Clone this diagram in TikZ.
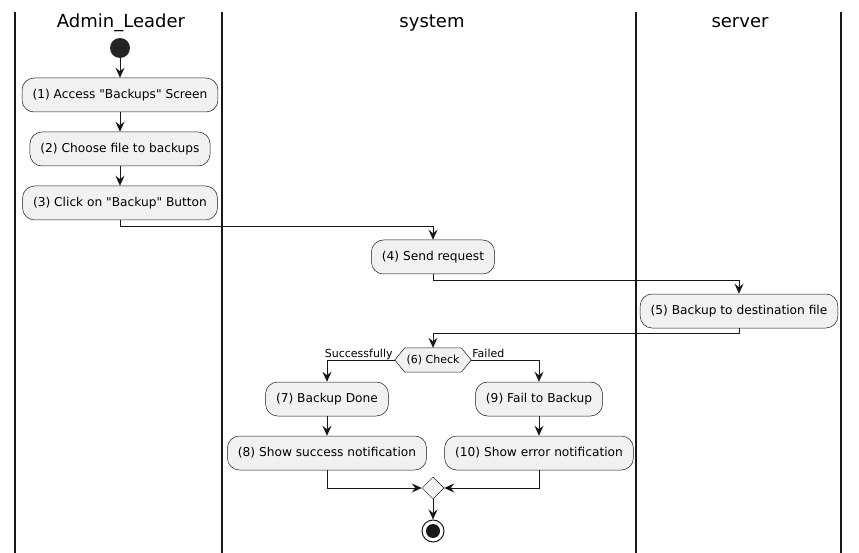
\documentclass[tikz,border=0pt]{standalone}
\usepackage{fontspec}
\setmainfont{DejaVu Sans}[Ligatures=TeXOff]
\usetikzlibrary{arrows.meta,shapes.geometric,calc}
\definecolor{boxfill}{HTML}{F1F1F1}
\definecolor{ink}{HTML}{181818}
\tikzset{
  lane/.style={line width=1.5pt, ink},
  lanetitle/.style={font=\fontsize{18}{20}\selectfont, inner sep=0pt},
  action/.style={draw=ink, line width=0.5pt, fill=boxfill, rounded corners=12pt,
    minimum height=34pt, inner xsep=10.5pt, inner ysep=0pt,
    font=\fontsize{12.2}{14}\selectfont},
  hexnode/.style={draw=none, minimum width=56pt, minimum height=24pt, inner sep=0pt,
    font=\fontsize{11}{13}\selectfont},
  hexshape/.style={draw=ink, line width=0.5pt, fill=boxfill},
  merge/.style={diamond, draw=ink, line width=0.5pt, fill=boxfill,
    minimum width=22pt, minimum height=22pt, inner sep=0pt},
  guard/.style={font=\fontsize{11}{13}\selectfont, inner sep=1pt},
  flow/.style={ink, line width=1pt, -{Stealth[length=10pt,width=9pt,inset=3.5pt]}}
}
\begin{document}
\begin{tikzpicture}[x=1pt,y=-1pt]
  \useasboundingbox (0,0) rectangle (859,553);
  \fill[white] (0,0) rectangle (859,553);

  % swimlane borders
  \draw[lane] (15,12) -- (15,553);
  \draw[lane] (222,12) -- (222,553);
  \draw[lane] (636,12) -- (636,553);
  \draw[lane] (841,12) -- (841,553);

  % swimlane titles
  \node[lanetitle] (t1) at (121,23) {Admin\_Leader};
  \node[lanetitle] (t2) at (432,23) {system};
  \node[lanetitle] (t3) at (740,23) {server};

  % start point
  \node[circle, fill=ink!95, minimum size=20pt, inner sep=0pt] (start) at (120,48) {};

  % actions
  \node[action] (b1) at (120,95) {(1) Access "Backups" Screen};
  \node[action] (b2) at (120,149) {(2) Choose file to backups};
  \node[action] (b3) at (120,203) {(3) Click on "Backup" Button};
  \node[action] (b4) at (433,257) {(4) Send request};
  \node[action] (b5) at (739,311) {(5) Backup to destination file};

  % decision
  \node[hexnode] (check) at (433,360) {};
  \coordinate (checkL) at ($(check.west)+(-10,0)$);
  \coordinate (checkR) at ($(check.east)+(10,0)$);
  \draw[hexshape] (checkL) -- (check.north west) -- (check.north east) -- (checkR)
    -- (check.south east) -- (check.south west) -- cycle;
  \node[hexnode] at (check.center) {(6) Check};

  \node[action] (b7) at (327,399) {(7) Backup Done};
  \node[action] (b8) at (327,453) {(8) Show success notification};
  \node[action] (b9) at (539,399) {(9) Fail to Backup};
  \node[action] (b10) at (539,453) {(10) Show error notification};

  % merge and end
  \node[merge] (mg) at (433,488) {};
  \node[circle, draw=ink, line width=1pt, fill=white, minimum size=22pt, inner sep=0pt] (stop) at (433,531) {};
  \node[circle, fill=ink, minimum size=14pt, inner sep=0pt] (stopdot) at (stop.center) {};

  % flows
  \draw[flow] (start) -- (b1);
  \draw[flow] (b1) -- (b2);
  \draw[flow] (b2) -- (b3);
  \draw[flow] (b3.south) -- ++(0,6) -| (b4.north);
  \draw[flow] (b4.south) -- ++(0,6) -| (b5.north);
  \draw[flow] (b5.south) -- ++(0,5) -| (check.north);
  \draw[flow] (checkL) -| (b7.north);
  \draw[flow] (checkR) -| (b9.north);
  \node[guard, anchor=base east] (lsucc) at ($(checkL)+(-1,-2.5)$) {Successfully};
  \node[guard, anchor=base west] (lfail) at ($(checkR)+(0,-2.5)$) {Failed};
  \draw[flow] (b7) -- (b8);
  \draw[flow] (b9) -- (b10);
  \draw[flow] (b8.south) |- (mg.west);
  \draw[flow] (b10.south) |- (mg.east);
  \draw[flow] (mg.south) -- (stop.north);
\end{tikzpicture}
\end{document}
